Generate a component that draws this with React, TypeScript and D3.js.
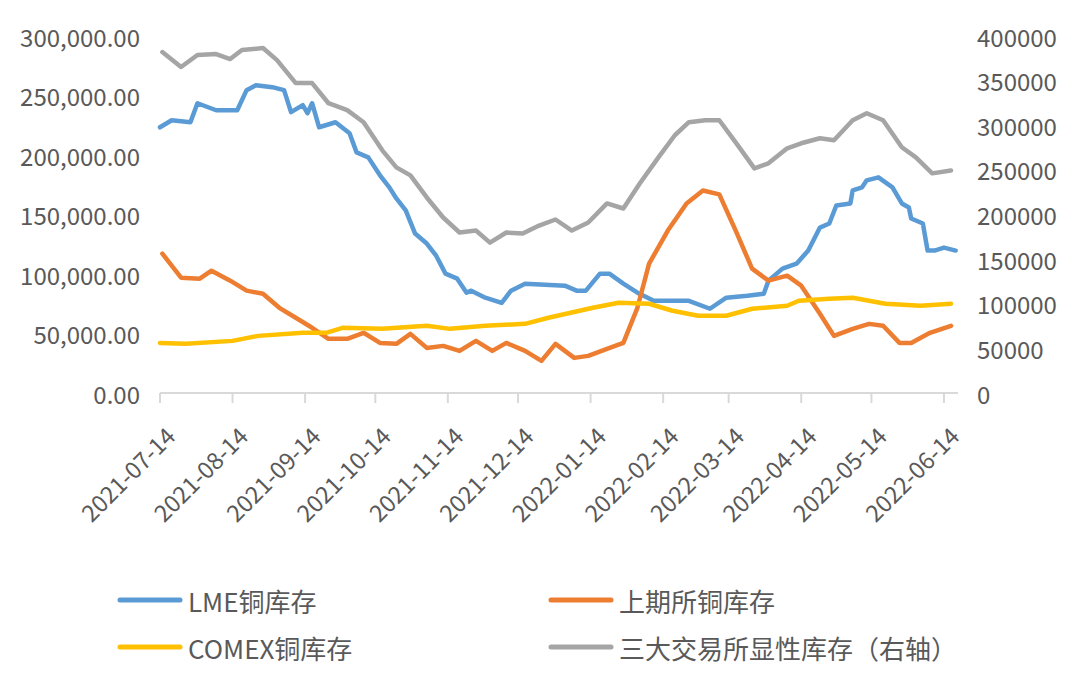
import React from "react";
import * as d3 from "d3";

const tickDates = [
  "2021-07-14", "2021-08-14", "2021-09-14", "2021-10-14", "2021-11-14", "2021-12-14",
  "2022-01-14", "2022-02-14", "2022-03-14", "2022-04-14", "2022-05-14", "2022-06-14",
];
const leftTicks = [0, 50000, 100000, 150000, 200000, 250000, 300000];
const rightTicks = [0, 50000, 100000, 150000, 200000, 250000, 300000, 350000, 400000];

const lmeSeries: [string, number][] = [
  ["2021-07-14", 223300], ["2021-07-19", 229200], ["2021-07-27", 227500], ["2021-07-30", 243500],
  ["2021-08-07", 237600], ["2021-08-16", 237600], ["2021-08-20", 254500], ["2021-08-24", 258700],
  ["2021-08-31", 257000], ["2021-09-05", 254500], ["2021-09-08", 236000], ["2021-09-13", 241900],
  ["2021-09-15", 235100], ["2021-09-17", 243500], ["2021-09-20", 223300], ["2021-09-27", 227500],
  ["2021-10-03", 218300], ["2021-10-06", 202200], ["2021-10-11", 198000], ["2021-10-16", 182900],
  ["2021-10-20", 172800], ["2021-10-23", 163500], ["2021-10-27", 153400], ["2021-10-31", 134000],
  ["2021-11-05", 125600], ["2021-11-09", 115400], ["2021-11-13", 100300], ["2021-11-18", 96100],
  ["2021-11-22", 84300], ["2021-11-24", 86000], ["2021-11-30", 80100], ["2021-12-07", 75800],
  ["2021-12-11", 86000], ["2021-12-17", 91900], ["2022-01-03", 90200], ["2022-01-08", 86000],
  ["2022-01-12", 86000], ["2022-01-18", 100300], ["2022-01-22", 100300], ["2022-01-28", 91900],
  ["2022-02-03", 84300], ["2022-02-10", 77500], ["2022-02-16", 77500], ["2022-02-25", 77500],
  ["2022-03-06", 70800], ["2022-03-13", 80100], ["2022-03-22", 81700], ["2022-03-29", 83400],
  ["2022-03-31", 94400], ["2022-04-06", 104500], ["2022-04-12", 108700], ["2022-04-17", 119700],
  ["2022-04-22", 139000], ["2022-04-26", 142400], ["2022-04-29", 157600], ["2022-05-05", 159300],
  ["2022-05-06", 170200], ["2022-05-10", 172800], ["2022-05-12", 178700], ["2022-05-17", 181200],
  ["2022-05-23", 172800], ["2022-05-27", 159300], ["2022-05-30", 155900], ["2022-05-31", 146600],
  ["2022-06-05", 142400], ["2022-06-07", 119700], ["2022-06-10", 119700], ["2022-06-14", 122200],
  ["2022-06-19", 119700],
];

const shfeSeries: [string, number][] = [
  ["2021-07-15", 117100], ["2021-07-23", 96900], ["2021-07-31", 96100], ["2021-08-05", 102800],
  ["2021-08-13", 94400], ["2021-08-20", 86000], ["2021-08-27", 83400], ["2021-09-03", 71600],
  ["2021-09-10", 63200], ["2021-09-17", 54800], ["2021-09-24", 45500], ["2021-10-02", 45500],
  ["2021-10-09", 50600], ["2021-10-16", 42100], ["2021-10-23", 41300], ["2021-10-29", 49700],
  ["2021-11-05", 37900], ["2021-11-12", 39600], ["2021-11-19", 35400], ["2021-11-26", 43800],
  ["2021-12-03", 35400], ["2021-12-09", 42100], ["2021-12-17", 35400], ["2021-12-24", 27000],
  ["2021-12-30", 41300], ["2022-01-07", 29500], ["2022-01-13", 31200], ["2022-01-21", 37100],
  ["2022-01-28", 42100], ["2022-02-03", 71600], ["2022-02-08", 108700], ["2022-02-16", 136500],
  ["2022-02-24", 159300], ["2022-03-03", 170200], ["2022-03-10", 166900], ["2022-03-17", 136500],
  ["2022-03-24", 104500], ["2022-03-31", 94400], ["2022-04-08", 98600], ["2022-04-14", 90200],
  ["2022-04-22", 66600], ["2022-04-28", 48000], ["2022-05-06", 53900], ["2022-05-13", 58100],
  ["2022-05-19", 56500], ["2022-05-26", 42100], ["2022-05-31", 42100], ["2022-06-08", 50600],
  ["2022-06-17", 56500],
];

const comexSeries: [string, number][] = [
  ["2021-07-14", 42100], ["2021-07-25", 41300], ["2021-08-14", 43800], ["2021-08-25", 48000],
  ["2021-09-13", 50600], ["2021-09-23", 50600], ["2021-09-30", 54800], ["2021-10-17", 53900],
  ["2021-11-05", 56500], ["2021-11-15", 53900], ["2021-11-30", 56500], ["2021-12-17", 58100],
  ["2021-12-27", 63200], ["2022-01-15", 71600], ["2022-01-26", 75800], ["2022-02-08", 75000],
  ["2022-02-18", 69100], ["2022-03-01", 64900], ["2022-03-13", 64900], ["2022-03-24", 70800],
  ["2022-04-08", 73300], ["2022-04-13", 77500], ["2022-04-26", 79200], ["2022-05-06", 80100],
  ["2022-05-13", 77500], ["2022-05-20", 75000], ["2022-06-04", 73300], ["2022-06-17", 75000],
];

const totalSeries: [string, number][] = [
  ["2021-07-15", 382000], ["2021-07-23", 365200], ["2021-07-30", 378700], ["2021-08-07", 379800],
  ["2021-08-13", 374200], ["2021-08-18", 384300], ["2021-08-27", 386500], ["2021-09-02", 373000],
  ["2021-09-10", 347200], ["2021-09-17", 347200], ["2021-09-24", 324700], ["2021-10-02", 316900],
  ["2021-10-09", 303400], ["2021-10-17", 271900], ["2021-10-23", 252800], ["2021-10-29", 243800],
  ["2021-11-05", 219100], ["2021-11-12", 196600], ["2021-11-19", 179800], ["2021-11-26", 182000],
  ["2021-12-02", 168500], ["2021-12-09", 179800], ["2021-12-16", 178600], ["2021-12-23", 187600],
  ["2021-12-30", 194400], ["2022-01-06", 182000], ["2022-01-13", 191000], ["2022-01-21", 212400],
  ["2022-01-28", 206700], ["2022-02-04", 234800], ["2022-02-12", 264000], ["2022-02-19", 288800],
  ["2022-02-25", 303400], ["2022-03-04", 305600], ["2022-03-10", 305600], ["2022-03-17", 280900],
  ["2022-03-25", 251700], ["2022-03-31", 257300], ["2022-04-08", 274200], ["2022-04-14", 279800],
  ["2022-04-22", 285400], ["2022-04-28", 283100], ["2022-05-06", 305600], ["2022-05-12", 313500],
  ["2022-05-19", 305600], ["2022-05-27", 275300], ["2022-06-02", 264000], ["2022-06-09", 246100],
  ["2022-06-17", 249400],
];

const legendLabels = ["LME铜库存", "上期所铜库存", "COMEX铜库存", "三大交易所显性库存（右轴）"];
const colors = ["#5B9BD5", "#ED7D31", "#FFC000", "#A5A5A5"];

const parse = d3.timeParse("%Y-%m-%d");
const FONT = "'Noto Sans CJK SC', 'Noto Sans', sans-serif";
const TEXT = "#595959";

export default function App() {
  const W = 1080, H = 689;
  const x = d3.scaleTime()
    .domain([parse("2021-07-14") as Date, parse("2022-06-20") as Date])
    .range([160, 958]);
  const yL = d3.scaleLinear().domain([0, 300000]).range([393, 36]);
  const yR = d3.scaleLinear().domain([0, 400000]).range([393, 36]);

  const mk = (y: d3.ScaleLinear<number, number>) =>
    d3.line<[string, number]>()
      .x((d) => x(parse(d[0]) as Date))
      .y((d) => y(d[1]));

  const series = [
    { data: lmeSeries, y: yL },
    { data: shfeSeries, y: yL },
    { data: comexSeries, y: yL },
    { data: totalSeries, y: yR },
  ];

  const fmtL = d3.format(",.2f");
  const fmtR = d3.format("d");

  const legendPos = [
    { lx: 118, ty: 600 },
    { lx: 549, ty: 600 },
    { lx: 118, ty: 647 },
    { lx: 549, ty: 647 },
  ];

  return (
    <div style={{ position: "absolute", left: 0, top: 0, width: W, height: H, background: "#fff" }}>
      <svg width={W} height={H} style={{ display: "block", fontFamily: FONT }}>
        <rect width={W} height={H} fill="#fff" />
        {/* x axis */}
        <line x1={x.range()[0]} x2={x.range()[1]} y1={yL(0)} y2={yL(0)} stroke="#D9D9D9" strokeWidth={2} />
        {tickDates.map((t) => {
          const px = x(parse(t) as Date);
          return (
            <g key={t}>
              <line x1={px} x2={px} y1={yL(0)} y2={yL(0) + 10} stroke="#D9D9D9" strokeWidth={2} />
              <text
                transform={`translate(${px + 10},${yL(0) + 38}) rotate(-45)`}
                textAnchor="end"
                dominantBaseline="central"
                fontSize={23.5}
                fill={TEXT}
              >
                {t}
              </text>
            </g>
          );
        })}
        {/* left axis labels */}
        {leftTicks.map((v) => (
          <text key={"l" + v} x={140} y={yL(v)} textAnchor="end" dominantBaseline="central" fontSize={24} fill={TEXT}>
            {fmtL(v)}
          </text>
        ))}
        {/* right axis labels */}
        {rightTicks.map((v) => (
          <text key={"r" + v} x={977} y={yR(v)} textAnchor="start" dominantBaseline="central" fontSize={24} fill={TEXT}>
            {fmtR(v)}
          </text>
        ))}
        {/* lines */}
        {series.map((s, i) => (
          <path
            key={i}
            d={mk(s.y)(s.data) || ""}
            fill="none"
            stroke={colors[i]}
            strokeWidth={4.5}
            strokeLinejoin="round"
            strokeLinecap="round"
          />
        ))}
        {/* legend */}
        {legendLabels.map((lab, i) => (
          <g key={lab}>
            <line
              x1={legendPos[i].lx + 2}
              x2={legendPos[i].lx + 62}
              y1={legendPos[i].ty}
              y2={legendPos[i].ty}
              stroke={colors[i]}
              strokeWidth={5}
              strokeLinecap="round"
            />
            <text
              x={legendPos[i].lx + 70}
              y={legendPos[i].ty}
              dominantBaseline="central"
              fontSize={26}
              fill={TEXT}
            >
              {lab}
            </text>
          </g>
        ))}
      </svg>
    </div>
  );
}
